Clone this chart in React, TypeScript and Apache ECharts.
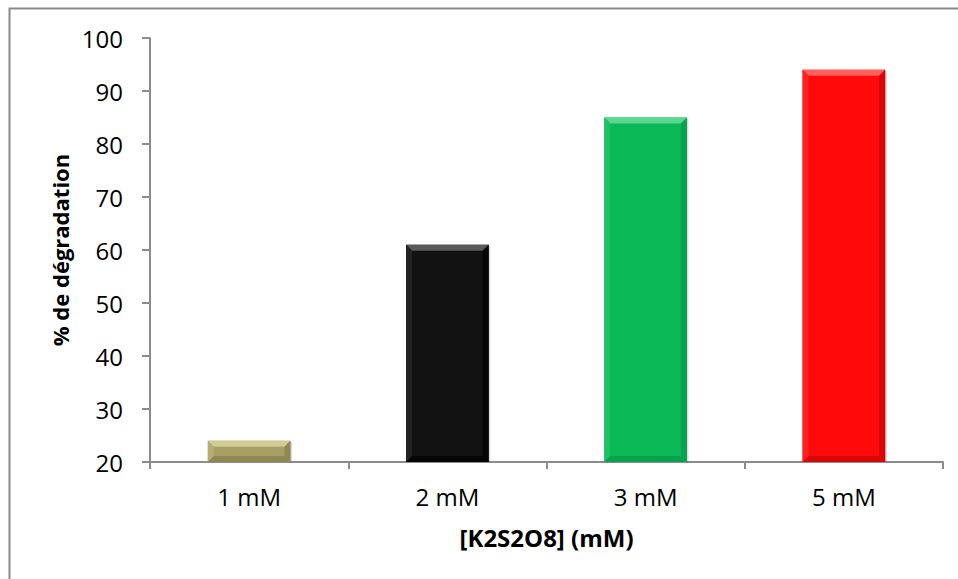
import React, { useEffect, useRef } from "react";
import * as echarts from "echarts";

const categories = ["1 mM", "2 mM", "3 mM", "5 mM"];
const degradation = [24, 61, 85, 94];
const barColors = ["#a79f66", "#121212", "#0bb957", "#fe0a0a"];
const topColors = ["#d2cb98", "#5a5a5a", "#5ad891", "#ff6060"];
const sideLight = ["#b5ad74", "#222222", "#1cc263", "#ff2020"];
const sideDark = ["#8f8855", "#060606", "#09a34e", "#d80808"];
const yTicks = [20, 30, 40, 50, 60, 70, 80, 90, 100];

const FONT = "'Open Sans', 'Noto Sans', sans-serif";

export default function App() {
  const ref = useRef<HTMLDivElement>(null);

  useEffect(() => {
    if (!ref.current) return;
    const chart = echarts.init(ref.current, null, { renderer: "svg" });

    // Bevelled bar: body, a pale top facet, side facets and a soft drop shadow.
    const renderBar = (params: any, api: any) => {
      const idx = api.value(0);
      const top = api.coord([idx, api.value(1)]);
      const base = api.coord([idx, yTicks[0]]);
      const w = api.size([1, 0])[0] / 2.4;
      const x0 = top[0] - w / 2;
      const x1 = top[0] + w / 2;
      const y0 = top[1];
      const y1 = base[1];
      const b = Math.min(6, (y1 - y0) / 2);
      const i = params.dataIndex;
      return {
        type: "group",
        children: [
          {
            type: "rect",
            shape: { x: x0 + 1.5, y: y0 + 1.5, width: w, height: y1 - y0 - 1.5 },
            style: { fill: "rgba(0,0,0,0.15)" },
          },
          {
            type: "rect",
            shape: { x: x0, y: y0, width: w, height: y1 - y0 },
            style: { fill: barColors[i] },
          },
          {
            type: "polygon",
            shape: { points: [[x0, y0], [x1, y0], [x1 - b, y0 + b], [x0 + b, y0 + b]] },
            style: { fill: topColors[i] },
          },
          {
            type: "polygon",
            shape: { points: [[x0, y0], [x0 + b, y0 + b], [x0 + b, y1 - b], [x0, y1]] },
            style: { fill: sideLight[i] },
          },
          {
            type: "polygon",
            shape: { points: [[x1, y0], [x1 - b, y0 + b], [x1 - b, y1 - b], [x1, y1]] },
            style: { fill: sideDark[i] },
          },
          {
            type: "polygon",
            shape: { points: [[x0, y1], [x0 + b, y1 - b], [x1 - b, y1 - b], [x1, y1]] },
            style: { fill: sideDark[i] },
          },
        ],
      };
    };

    chart.setOption({
      animation: false,
      backgroundColor: "#ffffff",
      grid: { left: 150, right: 15, top: 38, bottom: 117 },
      graphic: [
        {
          type: "rect",
          shape: { x: 9.5, y: 8.5, width: 1200, height: 1200 },
          style: { fill: "none", stroke: "#8a8a8a", lineWidth: 2 },
          silent: true,
        },
      ],
      xAxis: {
        type: "category",
        data: categories,
        name: "[K2S2O8] (mM)",
        nameLocation: "middle",
        nameGap: 63,
        nameTextStyle: { fontFamily: FONT, fontSize: 24, fontWeight: "bold", color: "#000" },
        axisLine: { lineStyle: { color: "#8c8c8c", width: 2 } },
        axisTick: { show: true, length: 7, inside: false, lineStyle: { color: "#8c8c8c", width: 2 } },
        axisLabel: { fontFamily: FONT, fontSize: 24, color: "#000", margin: 22 },
      },
      yAxis: {
        type: "value",
        min: yTicks[0],
        max: yTicks[yTicks.length - 1],
        interval: 10,
        name: "% de dégradation",
        nameLocation: "middle",
        nameGap: 77,
        nameRotate: 90,
        nameTextStyle: { fontFamily: FONT, fontSize: 22, fontWeight: "bold", color: "#000" },
        axisLine: { show: true, lineStyle: { color: "#8c8c8c", width: 2 } },
        axisTick: { show: true, length: 8, lineStyle: { color: "#8c8c8c", width: 2 } },
        axisLabel: { fontFamily: FONT, fontSize: 24, color: "#000", margin: 27 },
        splitLine: { show: false },
      },
      series: [
        {
          type: "custom",
          renderItem: renderBar,
          encode: { x: 0, y: 1 },
          data: degradation.map((v, i) => [i, v]),
          z: 3,
        },
      ],
    });

    return () => chart.dispose();
  }, []);

  return (
    <div
      ref={ref}
      style={{ position: "absolute", left: 0, top: 0, width: 958, height: 579 }}
    />
  );
}
